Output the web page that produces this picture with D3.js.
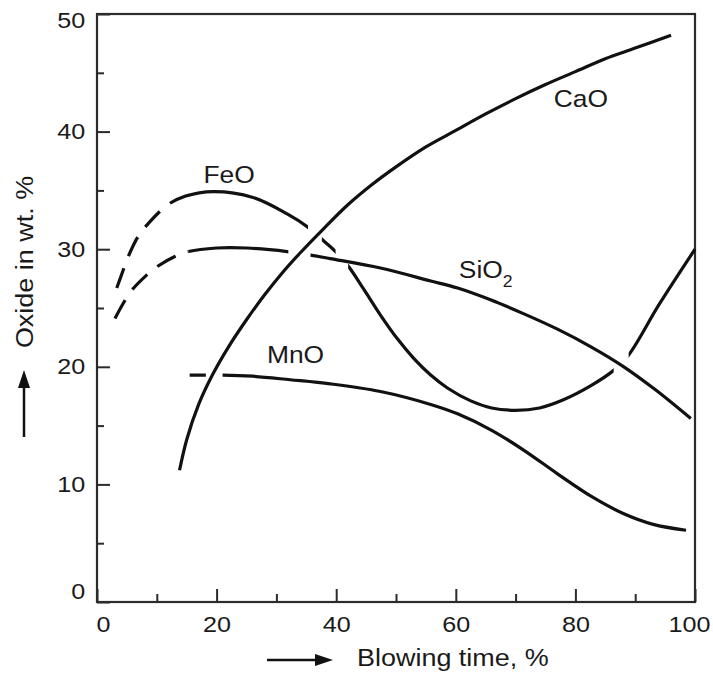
<!DOCTYPE html>
<html>
<head>
<meta charset="utf-8">
<script src="https://cdn.jsdelivr.net/npm/d3@7"></script>
<style>
  body { margin: 0; background: #fff; }
  text { font-family: "Liberation Sans", Arial, sans-serif; fill: #1a1a1a; }
</style>
</head>
<body>
<svg id="chart" width="713" height="675"></svg>
<script>
/// data ///
// axis ticks
const xMajorTicks = [0, 20, 40, 60, 80, 100];
const xMinorTicks = [10, 30, 50, 70, 90];
const yMajorTicks = [0, 10, 20, 30, 40, 50];
const yMinorTicks = [5, 15, 25, 35, 45];

// CaO
const caoX = [13.8, 15, 17, 19.4, 22, 25, 28, 31, 34, 38, 42, 46, 50, 55, 60, 65, 70, 75, 80, 85, 90, 96];
const caoY = [11.2, 13.8, 16.8, 19.4, 21.7, 24.0, 26.1, 28.0, 29.7, 31.8, 33.8, 35.5, 37.0, 38.7, 40.1, 41.5, 42.8, 44.0, 45.1, 46.2, 47.1, 48.2];

// FeO
const feoX = [3.3, 4.3, 5, 6.9, 8.6, 11.9, 14.7, 19.4, 26.1, 31.8, 35.2, 37.7, 39.9, 42.1, 44.6, 47.4, 50.2, 53, 55.8, 58.6, 62.5, 66, 70, 74, 78, 82.6, 86.4, 88.9, 94, 100];
const feoY = [26.7, 28.1, 29.1, 31.1, 32.2, 33.8, 34.5, 34.9, 34.4, 33.0, 31.9, 30.8, 29.8, 28.5, 26.6, 24.4, 22.4, 20.7, 19.3, 18.2, 17.1, 16.5, 16.3, 16.5, 17.2, 18.4, 19.7, 21.0, 25.3, 30.0];

// SiO2
const sio2X = [3, 4.4, 5.8, 8.3, 10, 13.1, 15.3, 20, 25, 31.8, 35.7, 39, 47.4, 55.8, 60.3, 65.8, 71.4, 77, 82.6, 88.1, 93.5, 99.3];
const sio2Y = [24.1, 25.4, 26.5, 27.8, 28.5, 29.4, 29.8, 30.1, 30.1, 29.8, 29.5, 29.2, 28.4, 27.3, 26.7, 25.7, 24.5, 23.2, 21.7, 20.0, 18.0, 15.6];

// MnO
const mnoX = [15.5, 18.2, 21, 26, 32.3, 39, 47.4, 55.8, 60.3, 66, 71.4, 77, 82.6, 88.1, 93, 98.5];
const mnoY = [19.3, 19.3, 19.3, 19.2, 18.9, 18.55, 17.9, 16.8, 16.0, 14.6, 12.9, 10.9, 9.0, 7.5, 6.6, 6.1];

/// layout ///
const margin = {top: 14, right: 18, bottom: 73, left: 97};
const width = 713, height = 675;
const lineColour = "#111";
const axisColour = "#2b2b2b";

const svg = d3.select("#chart");

const xScale = d3.scaleLinear().domain([0, 100]).range([margin.left, width - margin.right]);
const yScale = d3.scaleLinear().domain([0, 50]).range([height - margin.bottom, margin.top]);

// visible pieces of every curve: [from, to, dashed] - the gaps mark crossings
const series = [
  {name: "CaO", xs: caoX, ys: caoY, pieces: [[0, 101, false]]},
  {name: "FeO", xs: feoX, ys: feoY, pieces: [[0, 14.7, true], [14.7, 35.3, false], [37.6, 39.9, false], [42, 86.4, false], [88.9, 101, false]]},
  {name: "SiO2", xs: sio2X, ys: sio2Y, pieces: [[0, 15.3, true], [15.3, 32, false], [35.7, 101, false]]},
  {name: "MnO", xs: mnoX, ys: mnoY, pieces: [[0, 18.2, false], [21, 101, false]]}
];

/// axes ///
const xAxisG = svg.append("g")
  .attr("transform", `translate(0, ${yScale(0)})`)
  .call(d3.axisBottom(xScale).tickValues(xMajorTicks).tickSizeInner(-13).tickSizeOuter(0).tickPadding(15))
  .call(g => g.select(".domain").remove());
svg.append("g")
  .attr("transform", `translate(0, ${yScale(0)})`)
  .call(d3.axisBottom(xScale).tickValues(xMinorTicks).tickSizeInner(-8).tickSizeOuter(0).tickFormat(""))
  .call(g => g.select(".domain").remove());

const yAxisG = svg.append("g")
  .attr("transform", `translate(${xScale(0)}, 0)`)
  .call(d3.axisLeft(yScale).tickValues(yMajorTicks).tickSizeInner(-13).tickSizeOuter(0).tickPadding(10))
  .call(g => g.select(".domain").remove());
svg.append("g")
  .attr("transform", `translate(${xScale(0)}, 0)`)
  .call(d3.axisLeft(yScale).tickValues(yMinorTicks).tickSizeInner(-7).tickSizeOuter(0).tickFormat(""))
  .call(g => g.select(".domain").remove());

svg.selectAll(".tick line").attr("stroke", axisColour).attr("stroke-width", 2);

xAxisG.selectAll("text")
  .attr("font-size", "21.5px")
  .attr("fill", "#1a1a1a")
  .attr("transform", d => `translate(${d === 0 ? 6 : d === 100 ? -6 : 0}, 0) scale(1.17, 1)`);
yAxisG.selectAll("text")
  .attr("font-size", "21.5px")
  .attr("fill", "#1a1a1a")
  .attr("transform", d => `translate(0, ${d === 0 ? -10 : d === 50 ? 7 : 0}) scale(1.17, 1)`);

// frame round the plot
svg.append("rect")
  .attr("x", xScale(0))
  .attr("y", yScale(50))
  .attr("width", xScale(100) - xScale(0))
  .attr("height", yScale(0) - yScale(50))
  .attr("fill", "none")
  .attr("stroke", axisColour)
  .attr("stroke-width", 2.2);

/// curves ///
const line = d3.line()
  .x(d => xScale(d[0]))
  .y(d => yScale(d[1]))
  .curve(d3.curveCatmullRom.alpha(0.5));

const defs = svg.append("defs");
series.forEach((s, si) => {
  const pts = s.xs.map((x, i) => [x, s.ys[i]]);
  s.pieces.forEach((p, pi) => {
    const id = `clip-${si}-${pi}`;
    defs.append("clipPath").attr("id", id)
      .append("rect")
        .attr("x", xScale(p[0]))
        .attr("y", 0)
        .attr("width", xScale(p[1]) - xScale(p[0]))
        .attr("height", height);
    svg.append("path")
      .datum(pts)
      .attr("d", line)
      .attr("fill", "none")
      .attr("stroke", lineColour)
      .attr("stroke-width", 3.2)
      .attr("stroke-dasharray", p[2] ? "21,13" : null)
      .attr("clip-path", `url(#${id})`);
  });
});

/// labels ///
function label(x, y, anchor) {
  return svg.append("text")
    .attr("transform", `translate(${xScale(x)}, ${yScale(y)}) scale(1.1, 1)`)
    .attr("text-anchor", anchor)
    .attr("font-size", "24px");
}
label(22.1, 35.6, "middle").text("FeO");
label(80.9, 42.1, "middle").text("CaO");
label(33.2, 20.3, "middle").text("MnO");
const si = label(60.5, 27.55, "start");
si.append("tspan").text("SiO");
si.append("tspan").attr("font-size", "16px").attr("dy", 9).text("2");

/// axis titles with arrows ///
const arrowG = svg.append("g").attr("fill", "#111").attr("stroke", "#111");
// x
arrowG.append("line").attr("x1", 267).attr("y1", 660).attr("x2", 318).attr("y2", 660).attr("stroke-width", 2.5);
arrowG.append("path").attr("d", "M333,660 L315,654 L315,666 Z").attr("stroke", "none");
svg.append("text")
  .attr("transform", `translate(357, 666) scale(1.1, 1)`)
  .attr("font-size", "24.5px")
  .text("Blowing time, %");
// y
arrowG.append("line").attr("x1", 24).attr("y1", 437).attr("x2", 24).attr("y2", 386).attr("stroke-width", 2.5);
arrowG.append("path").attr("d", "M24,370 L18,388 L30,388 Z").attr("stroke", "none");
svg.append("text")
  .attr("transform", `translate(33, 262) rotate(-90) scale(1.1, 1)`)
  .attr("text-anchor", "middle")
  .attr("font-size", "24.5px")
  .text("Oxide in wt. %");
</script>
</body>
</html>
